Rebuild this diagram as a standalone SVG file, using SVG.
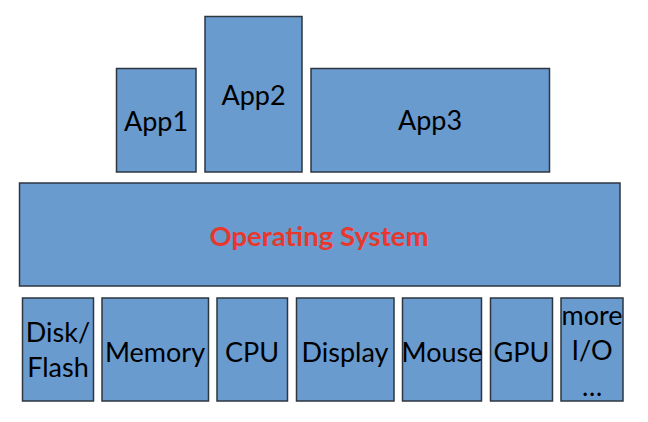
<svg xmlns="http://www.w3.org/2000/svg" width="648" height="422" viewBox="0 0 648 422">
<style>
rect.b{fill:#6a9bcf;stroke:#2e3640;stroke-width:1.5}
text{font-family:Lato,"Liberation Sans",sans-serif;font-size:27px;fill:#000;text-anchor:middle}
text.os{font-weight:bold;fill:#e8372c;font-size:27.5px}
</style>
<rect width="648" height="422" fill="#fff"/>
<g id="app1"><rect class="b" x="116.5" y="68.5" width="79.5" height="103.5"/><text x="156" y="131">App1</text></g>
<g id="app2"><rect class="b" x="205" y="16.5" width="97" height="155.5"/><text x="253.5" y="105">App2</text></g>
<g id="app3"><rect class="b" x="311" y="68.5" width="238.5" height="103.5"/><text x="430" y="130">App3</text></g>
<g id="os"><rect class="b" x="19.5" y="183" width="600.5" height="103"/><text class="os" x="319" y="245.5">Operating System</text></g>
<g id="disk"><rect class="b" x="22.5" y="298" width="71" height="103"/><text x="58" y="342">Disk/</text><text x="58" y="376.5">Flash</text></g>
<g id="memory"><rect class="b" x="102" y="298" width="106.5" height="103"/><text x="155" y="361.5">Memory</text></g>
<g id="cpu"><rect class="b" x="217" y="298" width="70.5" height="103"/><text x="252" y="361.5">CPU</text></g>
<g id="display"><rect class="b" x="296.5" y="298" width="97.5" height="103"/><text x="345" y="361.5">Display</text></g>
<g id="mouse"><rect class="b" x="402.5" y="298" width="79" height="103"/><text x="442" y="361.5">Mouse</text></g>
<g id="gpu"><rect class="b" x="490.5" y="298" width="62" height="103"/><text x="521.5" y="361.5">GPU</text></g>
<g id="more"><rect class="b" x="561" y="298" width="62" height="103"/><text x="592" y="324.5">more</text><text x="592" y="360">I/O</text><text x="592" y="396">…</text></g>
<g id="connectors"></g>
</svg>
